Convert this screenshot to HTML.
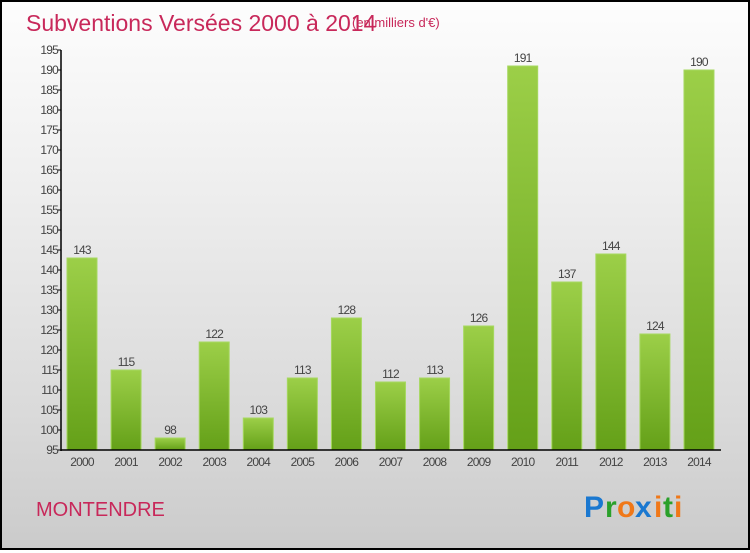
<!DOCTYPE html>
<html><head><meta charset="utf-8"><style>
html,body{margin:0;padding:0}
body{width:750px;height:550px;overflow:hidden;font-family:"Liberation Sans",sans-serif}
#wrap{position:relative;width:746px;height:546px;border:2px solid #000;background:linear-gradient(#fdfdfd,#f0f0f0 30%,#dadada 75%,#cbcbcb)}
</style></head><body>
<div id="wrap">
<svg id="chart" width="746" height="546" xmlns="http://www.w3.org/2000/svg">
<defs><linearGradient id="g" x1="0" y1="0" x2="0" y2="1"><stop offset="0" stop-color="#9ccf48"/><stop offset="1" stop-color="#64a018"/></linearGradient></defs>
<text x="24" y="29" font-size="23" fill="#c8285a">Subventions Versées 2000 à 2014</text>
<text x="350" y="25" font-size="13" fill="#c8285a">(en milliers d'€)</text>
<text x="34" y="514" font-size="20" fill="#c8285a">MONTENDRE</text>
<g font-size="30" font-weight="bold" font-family="'Liberation Sans',sans-serif">
<text x="582" y="515" fill="#1a78d0">P</text><text x="603" y="515" fill="#2aa02a">r</text><text x="615" y="515" fill="#f07818">o</text><text x="633" y="515" fill="#1a78d0">x</text><text x="652" y="515" fill="#f07818">i</text><text x="661" y="515" fill="#2aa02a">t</text><text x="672" y="515" fill="#f07818">i</text>
</g>
<g id="plot"></g>
</svg>
</div>
<script>
const categories=["2000","2001","2002","2003","2004","2005","2006","2007","2008","2009","2010","2011","2012","2013","2014"];
const values=[143,115,98,122,103,113,128,112,113,126,191,137,144,124,190];
const yTicks=[95,100,105,110,115,120,125,130,135,140,145,150,155,160,165,170,175,180,185,190,195];
const NS="http://www.w3.org/2000/svg";
const plot=document.getElementById('plot');
const ox=-2,oy=-2;
const y0=450+oy, yMin=95, yMax=195, pxPer=4;
function yS(v){return y0-(v-yMin)*pxPer;}
function xS(i){return 67+ox+i*44.07;}
function mk(t,a){const e=document.createElementNS(NS,t);for(const k in a)e.setAttribute(k,a[k]);plot.appendChild(e);return e;}
yTicks.forEach(t=>{
 const l=mk('line',{x1:57+ox,x2:61+ox,y1:yS(t),y2:yS(t),stroke:'#000'});
 
 
 const tx=mk('text',{x:58+ox,y:yS(t)+4,'font-size':12,'text-anchor':'end',fill:'#444','letter-spacing':'-0.8'});
 tx.textContent=t;
 
 
});
values.forEach((v,i)=>{
 const x=xS(i);
 const r=mk('rect',{x:x,y:yS(v),width:30,height:y0-yS(v),fill:'url(#g)',stroke:'#a6d860','stroke-width':1});
 
 
 const vt=mk('text',{x:x+15,y:yS(v)-4,'font-size':12,'text-anchor':'middle',fill:'#444','letter-spacing':'-0.8'});
 vt.textContent=v;
 
 
 const ct=mk('text',{x:x+15,y:y0+16,'font-size':12,'text-anchor':'middle',fill:'#444','letter-spacing':'-0.8'});
 ct.textContent=categories[i];
 
 
});
const ya=mk('line',{x1:61+ox,x2:61+ox,y1:yS(195),y2:y0+1,stroke:'#000','stroke-width':1.5});


const xa=mk('line',{x1:61+ox,x2:721+ox,y1:y0,y2:y0,stroke:'#000','stroke-width':1.5});


</script>
</body></html>
